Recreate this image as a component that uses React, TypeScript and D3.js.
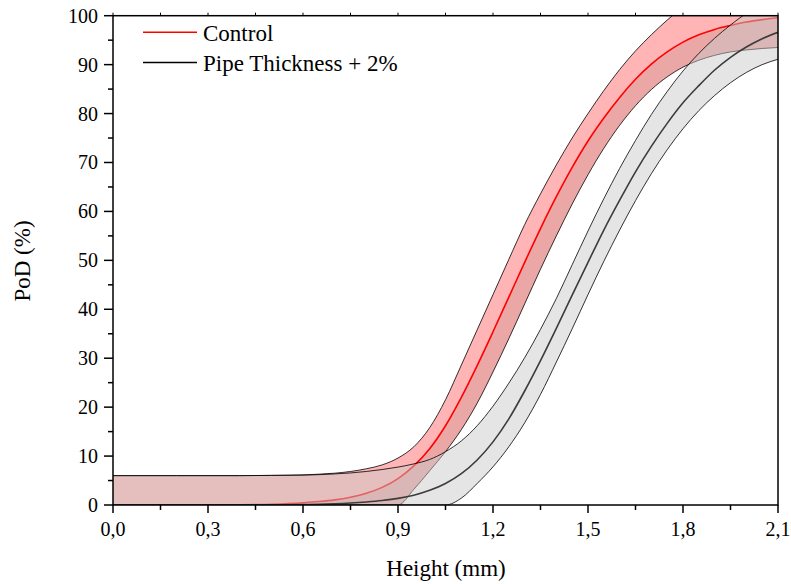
import React from "react";
import * as d3 from "d3";

const xGrid = [0, 0.2, 0.4, 0.5, 0.6, 0.65, 0.7, 0.75, 0.8, 0.85, 0.9, 0.95, 1.0, 1.05, 1.1, 1.15, 1.2, 1.25, 1.3, 1.35, 1.4, 1.45, 1.5, 1.55, 1.6, 1.65, 1.7, 1.75, 1.8, 1.85, 1.9, 1.95, 2.0, 2.05, 2.1];
const controlMean = [0, 0.01, 0.05, 0.15, 0.45, 0.7, 1.05, 1.6, 2.4, 3.6, 5.4, 8.0, 11.5, 16.2, 22, 28.5, 35.4, 42.5, 49.6, 56.5, 63, 69, 74.4, 79.1, 83.3, 87.0, 90.1, 92.6, 94.6, 96.1, 97.2, 98.0, 98.7, 99.2, 99.6];
const controlUpper = [6.0, 6.0, 6.0, 6.05, 6.15, 6.3, 6.5, 6.85, 7.4, 8.2, 9.6, 11.9, 15.8, 21.5, 28.6, 35.8, 43, 50.2, 57.3, 63.6, 69.5, 75, 80, 84.7, 89, 92.8, 96.1, 99.1, 101.8, 104, 106, 107.5, 108.7, 109.6, 110.3];
const controlLower = [0, 0, 0, 0, 0, 0, 0, 0, 0, 0, 0, 3.2, 7, 10.9, 15.4, 20.8, 27.2, 34, 41.1, 48.2, 55, 61.5, 67.5, 72.9, 77.6, 81.6, 84.9, 87.5, 89.5, 90.9, 91.9, 92.6, 93.0, 93.3, 93.5];
const thickMean = [0, 0, 0.02, 0.05, 0.1, 0.16, 0.25, 0.4, 0.62, 0.92, 1.35, 2.0, 3.0, 4.4, 6.4, 9.2, 12.9, 17.6, 23.3, 29.5, 36.1, 42.9, 49.6, 56.2, 62.3, 68.1, 73.3, 78, 82.2, 85.7, 88.9, 91.5, 93.6, 95.3, 96.6];
const thickUpper = [6.0, 6.0, 6.0, 6.05, 6.1, 6.2, 6.35, 6.55, 6.85, 7.25, 7.75, 8.4, 9.3, 10.9, 13.1, 16.2, 20.2, 24.9, 30.1, 35.9, 42.2, 49.1, 56, 62.6, 68.8, 74.5, 79.8, 84.5, 88.7, 92.3, 95.4, 98.1, 100.5, 102.6, 104.5];
const thickLower = [0, 0, 0, 0, 0, 0, 0, 0, 0, 0, 0, 0, 0, 0, 1.4, 4.4, 7.8, 11.9, 16.8, 22.6, 29.2, 36, 43, 49.8, 56.2, 62.2, 67.7, 72.6, 76.9, 80.6, 83.7, 86.3, 88.4, 90, 91.1];

const xMajorTicks = [0, 0.3, 0.6, 0.9, 1.2, 1.5, 1.8, 2.1];
const xMinorTicks = [0.15, 0.45, 0.75, 1.05, 1.35, 1.65, 1.95];
const yMajorTicks = [0, 10, 20, 30, 40, 50, 60, 70, 80, 90, 100];
const yMinorTicks = [5, 15, 25, 35, 45, 55, 65, 75, 85, 95];
const legendLabels = ["Control", "Pipe Thickness + 2%"];

const FONT = "Liberation Serif, Times New Roman, serif";

export default function App() {
  const W = 791, H = 584;
  const L = 113, R = 778, T = 15.7, B = 505;
  const x = d3.scaleLinear().domain([0, 2.1]).range([L, R]);
  const y = d3.scaleLinear().domain([0, 100]).range([B, T]);

  const idx = xGrid.map((_, i) => i);
  const band = (lo: number[], hi: number[]) =>
    d3.area<number>().x((i) => x(xGrid[i])).y0((i) => y(lo[i])).y1((i) => y(hi[i])).curve(d3.curveMonotoneX)(idx) || "";
  const line = (v: number[]) =>
    d3.line<number>().x((i) => x(xGrid[i])).y((i) => y(v[i])).curve(d3.curveMonotoneX)(idx) || "";

  const fmt = (v: number) => d3.format(".1f")(v).replace(".", ",");

  return (
    <svg width={W} height={H} style={{ position: "absolute", left: 0, top: 0, background: "#fff", fontFamily: FONT }}>
      <defs>
        <clipPath id="plot">
          <rect x={L} y={T} width={R - L} height={B - T} />
        </clipPath>
      </defs>
      <g clipPath="url(#plot)">
        <path d={band(controlMean, controlUpper)} fill="#ffb5b5" />
        <path d={band(controlLower, controlMean)} fill="#eba6a6" />
        <path d={line(controlMean)} fill="none" stroke="#ff0000" strokeWidth={1.6} />
        <path d={line(controlUpper)} fill="none" stroke="#000" strokeWidth={0.8} />
        <path d={line(controlLower)} fill="none" stroke="#000" strokeWidth={0.8} />
        <path d={band(thickLower, thickUpper)} fill="#c8c8c8" fillOpacity={0.48} />
        <path d={line(thickUpper)} fill="none" stroke="#000" strokeWidth={0.8} />
        <path d={line(thickLower)} fill="none" stroke="#000" strokeWidth={0.8} />
        <path d={line(thickMean)} fill="none" stroke="#3c3c3c" strokeWidth={1.6} />
      </g>

      <rect x={L} y={T} width={R - L} height={B - T} fill="none" stroke="#000" strokeWidth={1.5} />

      {xMajorTicks.map((t) => (
        <g key={"xM" + t}>
          <line x1={x(t)} x2={x(t)} y1={B} y2={B + 8} stroke="#000" strokeWidth={1.5} />
          <line x1={x(t)} x2={x(t)} y1={T} y2={T - 3} stroke="#000" strokeWidth={1} />
          <text x={x(t)} y={535.5} textAnchor="middle" style={{ fontFamily: FONT, fontSize: 20 }}>{fmt(t)}</text>
        </g>
      ))}
      {xMinorTicks.map((t) => (
        <g key={"xm" + t}>
          <line x1={x(t)} x2={x(t)} y1={B} y2={B + 5} stroke="#000" strokeWidth={1.5} />
          <line x1={x(t)} x2={x(t)} y1={T} y2={T - 3} stroke="#000" strokeWidth={1} />
        </g>
      ))}

      {yMajorTicks.map((t) => (
        <g key={"yM" + t}>
          <line x1={L - 9} x2={L} y1={y(t)} y2={y(t)} stroke="#000" strokeWidth={1.5} />
          <text x={98} y={y(t)} dy="0.35em" textAnchor="end" style={{ fontFamily: FONT, fontSize: 20 }}>{t}</text>
        </g>
      ))}
      {yMinorTicks.map((t) => (
        <line key={"ym" + t} x1={L - 5} x2={L} y1={y(t)} y2={y(t)} stroke="#000" strokeWidth={1.5} />
      ))}

      <text x={446} y={576} textAnchor="middle" style={{ fontFamily: FONT, fontSize: 23 }}>Height (mm)</text>
      <text transform={`translate(30,261) rotate(-90)`} textAnchor="middle" style={{ fontFamily: FONT, fontSize: 23 }}>PoD (%)</text>

      <line x1={143} x2={197} y1={32.3} y2={32.3} stroke="#ff0000" strokeWidth={1.6} />
      <text x={203} y={40.7} style={{ fontFamily: FONT, fontSize: 23 }}>{legendLabels[0]}</text>
      <line x1={143} x2={197} y1={62.5} y2={62.5} stroke="#000" strokeWidth={1.6} />
      <text x={203} y={70.9} style={{ fontFamily: FONT, fontSize: 23 }}>{legendLabels[1]}</text>
    </svg>
  );
}
